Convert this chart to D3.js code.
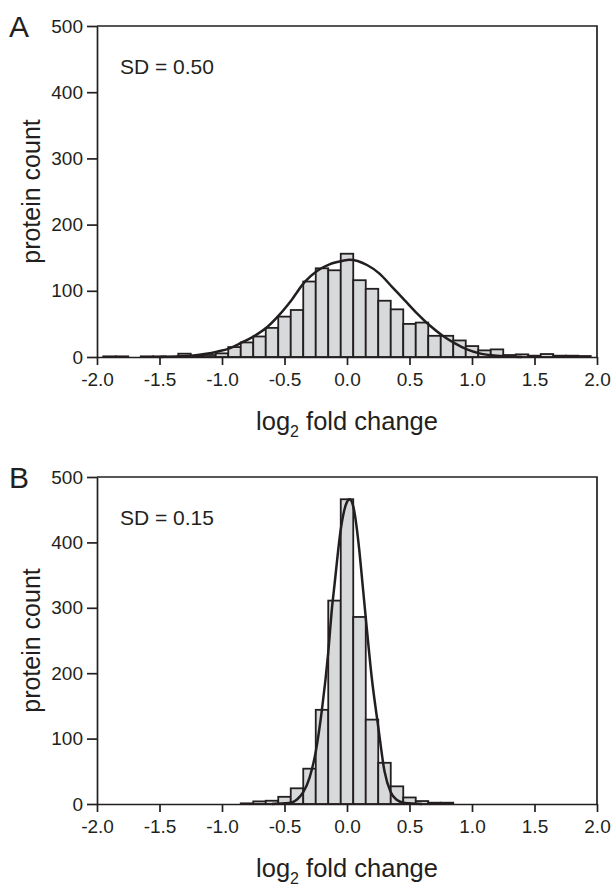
<!DOCTYPE html>
<html>
<head>
<meta charset="utf-8">
<script src="https://cdn.jsdelivr.net/npm/d3@7/dist/d3.min.js"></script>
<style>
body { margin: 0; background: #fff; }
svg { font-family: "Liberation Sans", Arial, sans-serif; }
</style>
</head>
<body>
<script>
var w = 616;
var h = 887;

var xTicks = [-2.0, -1.5, -1.0, -0.5, 0.0, 0.5, 1.0, 1.5, 2.0];
var xTickLabels = ['-2.0', '-1.5', '-1.0', '-0.5', '0.0', '0.5', '1.0', '1.5', '2.0'];
var yTicks = [0, 100, 200, 300, 400, 500];

// panel A histogram (bin centers, 0.1 wide)
var binsA = [-1.9, -1.8, -1.6, -1.5, -1.3, -1.2, -1.1, -1.0, -0.9, -0.8, -0.7, -0.6, -0.5, -0.4, -0.3, -0.2, -0.1,
	0.0, 0.1, 0.2, 0.3, 0.4, 0.5, 0.6, 0.7, 0.8, 0.9, 1.0, 1.1, 1.2, 1.3, 1.4, 1.5, 1.6, 1.7, 1.8, 1.9];
var countsA = [1, 1, 1, 1, 5, 2, 3, 5.5, 15, 22, 31, 44, 61, 71, 114, 134, 131,
	156, 116, 103, 85, 72, 50, 52, 32, 32, 25, 16.5, 10, 11.5, 3, 4, 2, 4.5, 2, 2, 1.5];

// panel A fitted curve
var curveXA = [-1.5, -1.34, -1.24, -1.14, -1.04, -0.94, -0.84, -0.74, -0.64, -0.54, -0.44, -0.34, -0.24, -0.14, -0.04, 0.02,
	0.16, 0.26, 0.36, 0.46, 0.56, 0.66, 0.76, 0.86, 0.96, 1.06, 1.16, 1.26, 1.4];
var curveYA = [0, 1, 2, 4.5, 8, 13, 22, 32, 45, 64, 87, 113, 130, 140, 145, 147,
	139, 126, 106, 86, 66, 48, 33, 21, 11.5, 5.5, 2.5, 1, 0];

// panel B histogram
var binsB = [-0.8, -0.7, -0.6, -0.5, -0.4, -0.3, -0.2, -0.1, 0.0, 0.1, 0.2, 0.3, 0.4, 0.5, 0.6, 0.7, 0.8];
var countsB = [1, 4, 5, 11, 24, 54, 144, 311, 466, 286, 129, 63, 27, 10, 4.5, 2, 2];

// panel B fitted curve
var curveXB = [-0.6, -0.5, -0.45, -0.4, -0.35, -0.3, -0.25, -0.2, -0.15, -0.12, -0.1, -0.05, 0.0, 0.02,
	0.05, 0.1, 0.12, 0.15, 0.2, 0.25, 0.3, 0.35, 0.4, 0.45, 0.5, 0.6];
var curveYB = [0, 1, 2, 7, 18, 40, 80, 145, 232, 300, 335, 420, 462, 466,
	455, 385, 345, 285, 190, 118, 50, 18, 6, 2, 1, 0];

var svg = d3.select('body')
	.append('svg')
	.attr('width', w)
	.attr('height', h);

var ink = '#231f20';

function drawPanel(p) {
	var g = svg.append('g');
	var x = d3.scaleLinear().domain([-2, 2]).range([97, 597]);
	var y = d3.scaleLinear().domain([0, 500]).range([p.bottom, p.top]);

	// frame: top and right
	g.append('path')
		.attr('d', 'M' + x(-2) + ',' + y(500) + 'H' + x(2) + 'V' + y(0))
		.attr('fill', 'none')
		.attr('stroke', ink)
		.attr('stroke-width', 1.7);

	g.selectAll('rect.bar')
		.data(p.bins.map(function(b, i) { return [b, p.counts[i]]; }))
		.enter()
		.append('rect')
		.attr('class', 'bar')
		.attr('x', function(d) { return x(d[0] - 0.05); })
		.attr('width', function(d) { return x(d[0] + 0.05) - x(d[0] - 0.05); })
		.attr('y', function(d) { return y(d[1]); })
		.attr('height', function(d) { return y(0) - y(d[1]); })
		.attr('fill', '#d8d9db')
		.attr('stroke', ink)
		.attr('stroke-width', 1.8);

	var line = d3.line()
		.x(function(d) { return x(d[0]); })
		.y(function(d) { return y(d[1]); })
		.curve(d3.curveMonotoneX);

	g.append('path')
		.datum(p.cx.map(function(v, i) { return [v, p.cy[i]]; }))
		.attr('d', line)
		.attr('fill', 'none')
		.attr('stroke', ink)
		.attr('stroke-width', 2.5);

	g.append('g')
		.attr('transform', 'translate(' + x(-2) + ',0)')
		.call(d3.axisLeft(y).tickValues(yTicks).tickSize(10).tickSizeOuter(0).tickPadding(4));

	g.append('g')
		.attr('transform', 'translate(0,' + y(0) + ')')
		.call(d3.axisBottom(x).tickValues(xTicks).tickSize(8).tickSizeOuter(0).tickPadding(8)
			.tickFormat(function(d, i) { return xTickLabels[i]; }));

	g.selectAll('.domain, .tick line')
		.attr('stroke', ink)
		.attr('stroke-width', 1.7);
	g.selectAll('.tick text')
		.attr('fill', ink)
		.style('font-size', '19px')
		.style('font-family', '"Liberation Sans", Arial, sans-serif');

	// panel letter
	g.append('text')
		.attr('x', 9)
		.attr('y', p.top + 11)
		.attr('fill', ink)
		.style('font-size', '30px')
		.text(p.letter);

	g.append('text')
		.attr('x', 120)
		.attr('y', p.top + 48)
		.attr('fill', ink)
		.style('font-size', '21px')
		.text(p.sd);

	g.append('text')
		.attr('transform', 'translate(40,' + ((p.top + p.bottom) / 2) + ') rotate(-90)')
		.attr('text-anchor', 'middle')
		.attr('fill', ink)
		.style('font-size', '25px')
		.text('protein count');

	var lab = g.append('text')
		.attr('x', 347)
		.attr('y', p.bottom + 73)
		.attr('text-anchor', 'middle')
		.attr('fill', ink)
		.style('font-size', '25.5px');
	lab.append('tspan').text('log');
	lab.append('tspan').attr('dy', 7).style('font-size', '16px').text('2');
	lab.append('tspan').attr('dy', -7).text(' fold change');
}

drawPanel({ letter: 'A', top: 26, bottom: 357, bins: binsA, counts: countsA, cx: curveXA, cy: curveYA, sd: 'SD = 0.50' });
drawPanel({ letter: 'B', top: 477, bottom: 804, bins: binsB, counts: countsB, cx: curveXB, cy: curveYB, sd: 'SD = 0.15' });
</script>
</body>
</html>
